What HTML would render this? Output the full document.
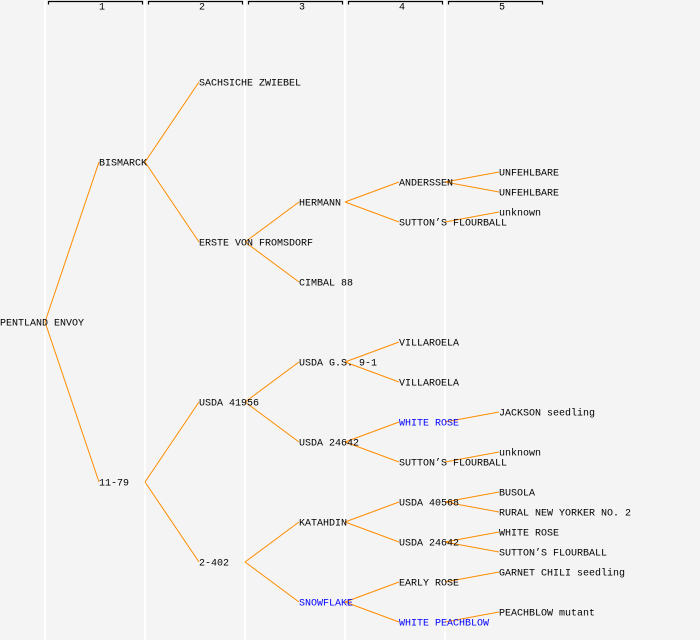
<!DOCTYPE html>
<html><head><meta charset="utf-8"><style>
html,body{margin:0;padding:0;background:#f4f4f4;}
svg{display:block}
text{font-family:"Liberation Mono",monospace;font-size:10px;dominant-baseline:central;}
</style></head><body>
<svg width="700" height="640" xmlns="http://www.w3.org/2000/svg">
<rect width="700" height="640" fill="#f4f4f4"/>
<g stroke="#ffffff" stroke-width="2">
<line x1="45" y1="0" x2="45" y2="640"/><line x1="145" y1="0" x2="145" y2="640"/><line x1="245" y1="0" x2="245" y2="640"/><line x1="345" y1="0" x2="345" y2="640"/><line x1="445" y1="0" x2="445" y2="640"/>
</g>
<g stroke="#000" stroke-width="1.2" fill="none">
<path d="M48.5 4.5V1.5H142.5V4.5"/><path d="M148.5 4.5V1.5H242.5V4.5"/><path d="M248.5 4.5V1.5H342.5V4.5"/><path d="M348.5 4.5V1.5H442.5V4.5"/><path d="M448.5 4.5V1.5H542.5V4.5"/>
</g>
<g text-anchor="middle" style="font-size:8px">
<text x="102" y="8">1</text><text x="202" y="8">2</text><text x="302" y="8">3</text><text x="402" y="8">4</text><text x="502" y="8">5</text>
</g>
<g stroke="#ff8c00" stroke-width="1" fill="none">
<path d="M45 322L99 162M45 322L99 482"/>
<path d="M145 162L199 82M145 162L199 242M145 482L199 402M145 482L199 562"/>
<path d="M245 242L299 202M245 242L299 282M245 402L299 362M245 402L299 442M245 562L299 522M245 562L299 602"/>
<path d="M345 202L399 182M345 202L399 222M345 362L399 342M345 362L399 382M345 442L399 422M345 442L399 462M345 522L399 502M345 522L399 542M345 602L399 582M345 602L399 622"/>
<path d="M445 182L499 172M445 182L499 192M445 222L499 212M445 422L499 412M445 462L499 452M445 502L499 492M445 502L499 512M445 542L499 532M445 542L499 552M445 582L499 572M445 622L499 612"/>
</g>
<g fill="#000" transform="translate(0,2)">
<text x="0" y="322">PENTLAND ENVOY</text>
<text x="99" y="162">BISMARCK</text><text x="99" y="482">11-79</text>
<text x="199" y="82">SACHSICHE ZWIEBEL</text><text x="199" y="242">ERSTE VON FROMSDORF</text><text x="199" y="402">USDA 41956</text><text x="199" y="562">2-402</text>
<text x="299" y="202">HERMANN</text><text x="299" y="282">CIMBAL 88</text><text x="299" y="362">USDA G.S. 9-1</text><text x="299" y="442">USDA 24642</text><text x="299" y="522">KATAHDIN</text><text x="299" y="602" fill="#0000ff">SNOWFLAKE</text>
<text x="399" y="182">ANDERSSEN</text><text x="399" y="222">SUTTON’S FLOURBALL</text><text x="399" y="342">VILLAROELA</text><text x="399" y="382">VILLAROELA</text><text x="399" y="422" fill="#0000ff">WHITE ROSE</text><text x="399" y="462">SUTTON’S FLOURBALL</text><text x="399" y="502">USDA 40568</text><text x="399" y="542">USDA 24642</text><text x="399" y="582">EARLY ROSE</text><text x="399" y="622" fill="#0000ff">WHITE PEACHBLOW</text>
<text x="499" y="172">UNFEHLBARE</text><text x="499" y="192">UNFEHLBARE</text><text x="499" y="212">unknown</text><text x="499" y="412">JACKSON seedling</text><text x="499" y="452">unknown</text><text x="499" y="492">BUSOLA</text><text x="499" y="512">RURAL NEW YORKER NO. 2</text><text x="499" y="532">WHITE ROSE</text><text x="499" y="552">SUTTON’S FLOURBALL</text><text x="499" y="572">GARNET CHILI seedling</text><text x="499" y="612">PEACHBLOW mutant</text>
</g>
</svg>
</body></html>
